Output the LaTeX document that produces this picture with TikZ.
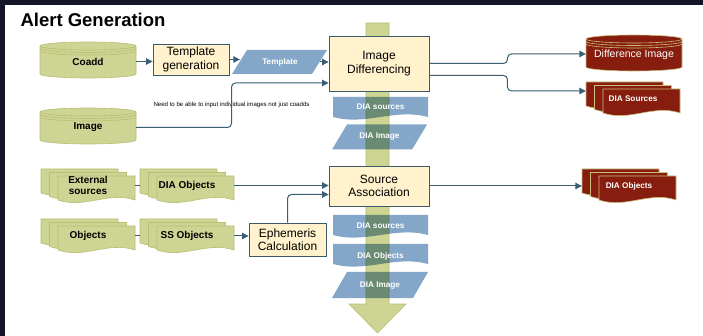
\documentclass[tikz,border=0pt]{standalone}
\usepackage{fontspec}
\setmainfont{Liberation Sans}
\usetikzlibrary{arrows.meta}
\usetikzlibrary{calc}
\usetikzlibrary{positioning}

\definecolor{slide}{RGB}{20,22,40}
\definecolor{olive}{RGB}{206,212,148}
\definecolor{oliveline}{RGB}{184,191,112}
\definecolor{cream}{RGB}{255,242,204}
\definecolor{boxline}{RGB}{58,90,108}
\definecolor{flowline}{RGB}{58,94,114}
\definecolor{steel}{RGB}{132,166,200}
\definecolor{rust}{RGB}{134,29,14}
\definecolor{rustline}{RGB}{201,189,122}

\tikzset{
	process/.style={draw=boxline, line width=0.9pt, fill=cream, align=center, inner sep=0pt, font=\fontsize{12}{13.5}\selectfont},
	holder/.style={minimum width=94pt, minimum height=32pt, inner sep=0pt, align=center},
	darktext/.style={font=\fontsize{10}{11.5}\selectfont\bfseries},
	whitetext/.style={text=white, font=\fontsize{8.2}{9}\selectfont\bfseries},
	flow/.style={draw=flowline, line width=1pt, -{Triangle[length=6.5pt,width=6.5pt]}},
	link/.style={draw=flowline, line width=1pt},
	tint/.style={fill=steel, blend mode=multiply},
}

\newcommand{\docpage}[5]{\path[#5] (#1,#2) -- ++(#3,0) -- ++(0,#4) .. controls +({-0.35*#3},-9) and +({0.35*#3},9) .. ++({-#3},0) -- cycle;}
\newcommand{\docstack}[4]{\foreach \k in {0,1,2} \docpage{#1+8.5*\k}{#2+3.5*\k}{77}{24}{fill=#3, draw=#4, line width=0.6pt};}
\newcommand{\slantbox}[5]{\path[#5] (#1+15,#2) -- ++(#3-15,0) -- ++(-15,#4) -- ++({-(#3-15)},0) -- cycle;}
\newcommand{\disk}[4]{%
	\path[fill=#3, draw=#4, line width=0.6pt] (#1-48,#2-14) -- (#1-48,#2+14) arc[start angle=180, end angle=0, x radius=48, y radius=4] -- (#1+48,#2-14) arc[start angle=0, end angle=-180, x radius=48, y radius=4] -- cycle;
	\foreach \k in {0,2.5,5} \draw[#4, line width=0.6pt] (#1-48,#2-14+\k) arc[start angle=180, end angle=0, x radius=48, y radius=4];}

\begin{document}
\begin{tikzpicture}[x=1pt, y=-1pt]
		\useasboundingbox (0,0) rectangle (703,336);
		\fill[white] (0,0) rectangle (703,336);
		\fill[slide] (0,0) rectangle (703,5);
		\fill[slide] (0,0) rectangle (5,336);
		\node[anchor=base west, font=\fontsize{18.5}{20}\selectfont\bfseries] (title) at (17,27) {Alert Generation};

		\fill[olive, draw=oliveline, line width=0.6pt] (366,23) -- (389,23) -- (389,304) -- (406,304) -- (377.5,333) -- (349,304) -- (366,304) -- cycle;

		\slantbox{232}{50}{95}{24}{fill=steel}
		\docpage{333}{97}{95}{20}{tint}
		\slantbox{332}{124.5}{95}{25}{tint}
		\docpage{333}{215}{95}{20}{tint}
		\docpage{333}{244}{95}{20}{tint}
		\slantbox{332}{272}{96}{26}{tint}

		\disk{88}{60}{olive}{oliveline}
		\disk{88}{126}{olive}{oliveline}
		\disk{634}{53}{rust}{rustline}
		\docstack{41}{169}{olive}{oliveline}
		\docstack{140}{169}{olive}{oliveline}
		\docstack{41}{219}{olive}{oliveline}
		\docstack{140}{219}{olive}{oliveline}
		\docstack{586}{82}{rust}{rustline}
		\docstack{582}{169}{rust}{rustline}

		\path
		(88,61.5) node[minimum width=96pt, minimum height=36pt, inner sep=0pt, darktext] (coadd) {Coadd}
		(88,127.5) node[minimum width=96pt, minimum height=36pt, inner sep=0pt, darktext] (image) {Image}
		(191,59.5) node[process, minimum width=76pt, minimum height=31pt] (tplgen) {Template\\generation}
		(280,62) node[minimum width=80pt, minimum height=24pt, inner sep=0pt, whitetext] (tpl) {Template}
		(379,63.5) node[process, minimum width=100pt, minimum height=55pt] (diff) {Image\\Differencing}
		(231.5,105) node[font=\fontsize{6.1}{6.5}\selectfont, inner sep=0pt] (note) {Need to be able to input individual images not just coadds}
		(634,55) node[minimum width=96pt, minimum height=36pt, inner sep=0pt, text=white, font=\fontsize{10.5}{12}\selectfont] (diffimg) {Difference Image}
		(633,99) node[holder, whitetext] (redsrc) {DIA Sources}
		(380.5,107) node[whitetext] (diasrc) {DIA sources}
		(379.5,137) node[whitetext] (diaimg) {DIA Image}
		(88,185.5) node[holder, darktext] (extsrc) {External\\sources}
		(187,185.5) node[holder, darktext] (diaobj) {DIA Objects}
		(88,236) node[holder, darktext] (objs) {Objects}
		(187,236) node[holder, darktext] (ssobj) {SS Objects}
		(287.5,239.5) node[process, minimum width=77pt, minimum height=33pt] (ephem) {Ephemeris\\Calculation}
		(379,186) node[process, minimum width=100pt, minimum height=40pt] (srcassoc) {Source\\Association}
		(629,186.5) node[holder, whitetext] (redobj) {DIA Objects}
		(380.5,226) node[whitetext] (diasrcb) {DIA sources}
		(380.5,256) node[whitetext] (diaobjb) {DIA Objects}
		(380,286) node[whitetext] (diaimgb) {DIA Image};

		\draw[flow] (coadd.east) -- (coadd.east -| tplgen.west);
		\draw[flow] (tplgen.east) -- (tplgen.east -| tpl.west);
		\draw[flow] (tpl.east) -- (tpl.east -| diff.west);
		\draw[flow, rounded corners=4pt] (image.east) -- (image.east -| note.center) |- ([yshift=-19.5pt]diff.west);
		\draw[flow, rounded corners=4pt] (diff.east) -- ++(78,0) |- ([yshift=1pt]diffimg.west);
		\draw[flow, rounded corners=4pt] ([yshift=-12pt]diff.east) -- ++(78,0) |- ([yshift=8pt]redsrc.west);
		\draw[link] (extsrc.east) -- (diaobj.west);
		\draw[link] (objs.east) -- (ssobj.west);
		\draw[flow] (diaobj.east) -- (diaobj.east -| srcassoc.west);
		\draw[flow] (ssobj.east) -- (ssobj.east -| ephem.west);
		\draw[flow, rounded corners=4pt] (ephem.north) |- ([yshift=-8.5pt]srcassoc.west);
		\draw[flow] (srcassoc.east) -- (srcassoc.east -| redobj.west);
\end{tikzpicture}
\end{document}
